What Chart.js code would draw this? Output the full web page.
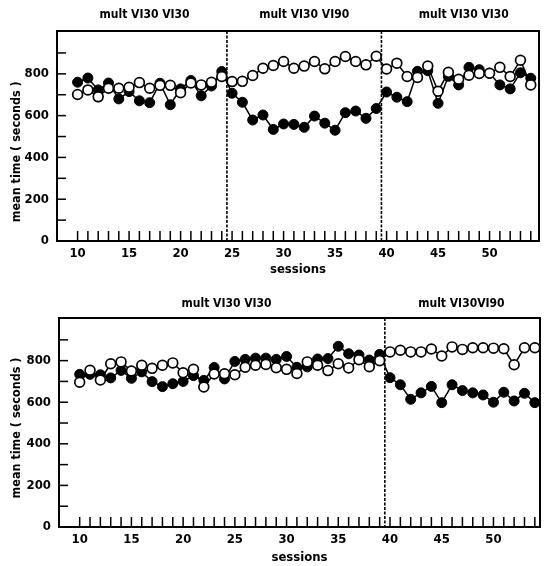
<!DOCTYPE html>
<html>
<head>
<meta charset="utf-8">
<script src="https://cdn.jsdelivr.net/npm/chart.js@4.4.1/dist/chart.umd.min.js"></script>
<style>
  html, body { margin: 0; padding: 0; background: #fff; }
  canvas { display: block; }
</style>
</head>
<body>
<canvas id="topChart" width="548" height="283"></canvas>
<canvas id="bottomChart" width="548" height="283"></canvas>
<script>
// sessions on the x axis
const sessions = [10, 11, 12, 13, 14, 15, 16, 17, 18, 19, 20, 21, 22, 23, 24, 25, 26, 27, 28, 29,
  30, 31, 32, 33, 34, 35, 36, 37, 38, 39, 40, 41, 42, 43, 44, 45, 46, 47, 48, 49, 50, 51, 52, 53, 54];

// upper panel: filled and open circles (mean time, seconds)
const topFilled = [760, 780, 723, 756, 680, 715, 671, 662, 755, 652, 728, 768, 695, 742, 811,
  707, 664, 579, 603, 534, 560, 558, 544, 598, 564, 530, 614, 622, 587, 634,
  713, 688, 667, 812, 815, 659, 788, 747, 831, 820, 803, 747, 728, 805, 779];
const topOpen = [701, 723, 690, 731, 731, 736, 758, 731, 745, 745, 710, 756, 747, 760, 787,
  763, 764, 792, 827, 840, 859, 827, 837, 859, 824, 859, 883, 859, 843, 884,
  823, 851, 787, 783, 837, 717, 807, 774, 793, 802, 803, 831, 787, 865, 747];

// lower panel
const bottomFilled = [734, 734, 732, 717, 753, 715, 746, 699, 675, 689, 700, 728, 705, 767, 712,
  796, 806, 812, 812, 806, 820, 768, 770, 808, 810, 869, 833, 827, 803, 830,
  718, 684, 614, 645, 676, 598, 684, 656, 645, 635, 600, 648, 606, 643, 598];
const bottomOpen = [696, 754, 707, 785, 794, 750, 778, 763, 778, 789, 742, 758, 673, 736, 737,
  732, 768, 778, 782, 766, 758, 738, 794, 778, 752, 785, 765, 804, 771, 800,
  842, 850, 842, 842, 856, 822, 866, 854, 862, 862, 860, 857, 780, 862, 862];

// ticks
const xTicks = [10, 11, 12, 13, 14, 15, 16, 17, 18, 19, 20, 21, 22, 23, 24, 25, 26, 27, 28, 29,
  30, 31, 32, 33, 34, 35, 36, 37, 38, 39, 40, 41, 42, 43, 44, 45, 46, 47, 48, 49, 50, 51, 52, 53, 54];
const xTickLabels = [10, 15, 20, 25, 30, 35, 40, 45, 50];
const yTicks = [0, 100, 200, 300, 400, 500, 600, 700, 800, 900];
const yTickLabels = [0, 200, 400, 600, 800];

// schedule phases
const topPhases = ['mult VI30 VI30', 'mult VI30 VI90', 'mult VI30 VI30'];
const topPhaseAt = [16.5, 32, 47.5];
const topDividers = [24.5, 39.5];
const bottomPhases = ['mult VI30 VI30', 'mult VI30VI90'];
const bottomPhaseAt = [24.2, 46.9];
const bottomDividers = [39.5];

const FONT = "'Liberation Sans Narrow', 'DejaVu Sans Condensed', 'Arial Narrow', sans-serif";

const paperPlugin = {
  id: 'paper',
  beforeDatasetsDraw(chart, args, opts) {
    const { ctx, chartArea: a, scales: { x, y } } = chart;
    ctx.save();
    ctx.strokeStyle = '#000';
    // dashed phase dividers
    ctx.lineWidth = 1.6;
    ctx.setLineDash([3, 1.5]);
    opts.dividers.forEach(d => {
      const px = x.getPixelForValue(d);
      ctx.beginPath();
      ctx.moveTo(px, a.top);
      ctx.lineTo(px, a.bottom);
      ctx.stroke();
    });
    ctx.setLineDash([]);
    // inward tick marks
    ctx.lineWidth = 1.5;
    xTicks.forEach(v => {
      const px = x.getPixelForValue(v);
      ctx.beginPath();
      ctx.moveTo(px, a.bottom);
      ctx.lineTo(px, a.bottom - 10);
      ctx.stroke();
    });
    yTicks.forEach(v => {
      if (v === 0) return;
      const py = y.getPixelForValue(v);
      ctx.beginPath();
      ctx.moveTo(a.left, py);
      ctx.lineTo(a.left + 9, py);
      ctx.stroke();
    });
    // frame
    ctx.lineWidth = 2;
    ctx.strokeRect(a.left, a.top, a.right - a.left, a.bottom - a.top);
    ctx.restore();
  },
  afterDraw(chart, args, opts) {
    const { ctx, scales: { x, y } } = chart;
    ctx.save();
    ctx.fillStyle = '#000';
    ctx.font = 'bold 12px ' + FONT;
    ctx.textAlign = 'center';
    ctx.textBaseline = 'middle';
    opts.phases.forEach((t, i) => {
      ctx.fillText(t, x.getPixelForValue(opts.phaseAt[i]), opts.phaseY);
    });
    // y axis title
    ctx.font = 'bold 12.5px ' + FONT;
    ctx.translate(17, y.getPixelForValue(opts.yTitleAt));
    ctx.rotate(-Math.PI / 2);
    ctx.fillText('mean time ( seconds )', 0, 0);
    ctx.restore();
  }
};

function makePanel(id, filled, open, cfg) {
  const toPoints = arr => sessions.map((s, i) => ({ x: s, y: arr[i] }));
  const H = 283;
  return new Chart(document.getElementById(id), {
    type: 'line',
    data: {
      datasets: [
        {
          data: toPoints(open),
          borderColor: '#000',
          borderWidth: 1.5,
          pointRadius: 4.9,
          pointBackgroundColor: '#fff',
          pointBorderColor: '#000',
          pointBorderWidth: 1.7,
          tension: 0
        },
        {
          data: toPoints(filled),
          borderColor: '#000',
          borderWidth: 1.5,
          pointRadius: 5,
          pointBackgroundColor: '#000',
          pointBorderColor: '#000',
          pointBorderWidth: 1,
          tension: 0
        }
      ]
    },
    options: {
      responsive: false,
      animation: false,
      layout: { padding: { left: 0, right: 548 - cfg.right, top: cfg.top, bottom: 0 } },
      plugins: {
        legend: { display: false },
        tooltip: { enabled: false },
        paper: {
          dividers: cfg.dividers,
          phases: cfg.phases,
          phaseAt: cfg.phaseAt,
          phaseY: cfg.phaseY,
          yTitleAt: cfg.yTitleAt
        }
      },
      scales: {
        x: {
          type: 'linear',
          min: 8,
          max: cfg.xMax,
          afterFit: s => { s.height = H - cfg.bottom; },
          afterBuildTicks: s => { s.ticks = xTicks.map(v => ({ value: v })); },
          grid: { display: false, drawTicks: false },
          border: { display: false },
          ticks: {
            autoSkip: false,
            maxRotation: 0,
            padding: 5,
            color: '#000',
            font: { family: FONT, size: 13, weight: 'bold' },
            callback: v => xTickLabels.includes(v) ? String(v) : ''
          },
          title: {
            display: true,
            text: 'sessions',
            color: '#000',
            font: { family: FONT, size: 13, weight: 'bold' },
            padding: { top: 0, bottom: cfg.xTitlePad }
          }
        },
        y: {
          min: 0,
          max: 1005,
          afterFit: s => { s.width = cfg.left; },
          afterBuildTicks: s => { s.ticks = yTicks.map(v => ({ value: v })); },
          grid: { display: false, drawTicks: false },
          border: { display: false },
          ticks: {
            padding: 8,
            color: '#000',
            font: { family: FONT, size: 13, weight: 'bold' },
            callback: v => yTickLabels.includes(v) ? String(v) : ''
          }
        }
      }
    },
    plugins: [paperPlugin]
  });
}

makePanel('topChart', topFilled, topOpen, {
  left: 57, right: 539, top: 31, bottom: 241, xMax: 54.8,
  dividers: topDividers, phases: topPhases, phaseAt: topPhaseAt,
  phaseY: 15, yTitleAt: 427, xTitlePad: 6
});
makePanel('bottomChart', bottomFilled, bottomOpen, {
  left: 59, right: 540, top: 35, bottom: 244, xMax: 54.5,
  dividers: bottomDividers, phases: bottomPhases, phaseAt: bottomPhaseAt,
  phaseY: 21, yTitleAt: 476, xTitlePad: 1
});
</script>
</body>
</html>
